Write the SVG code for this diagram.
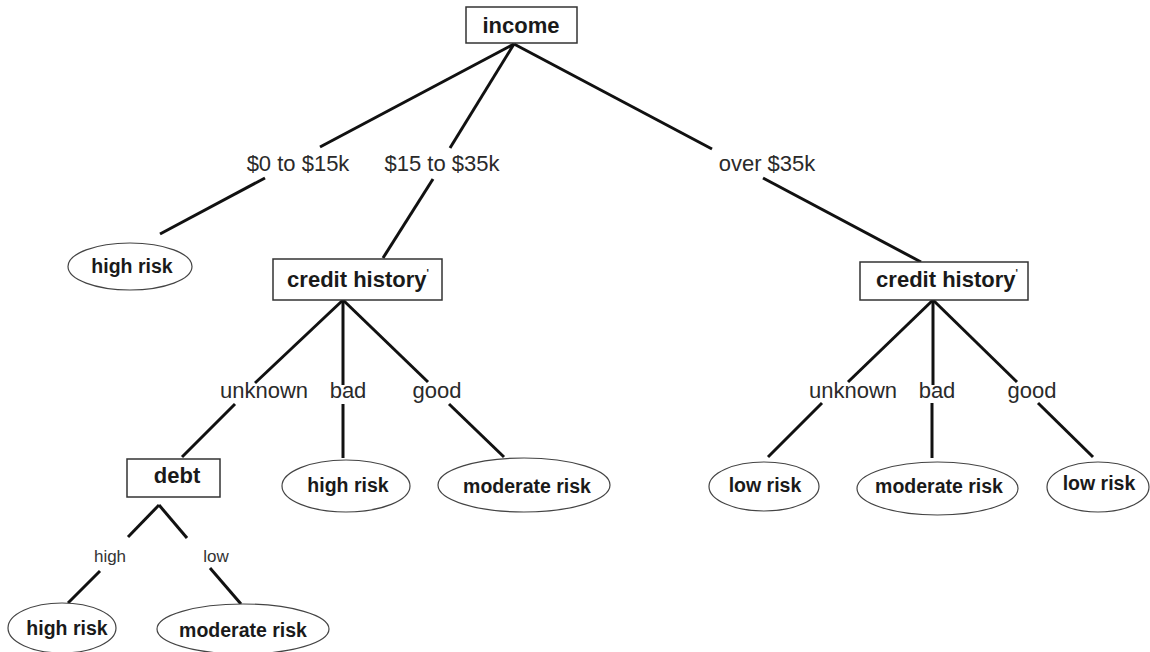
<svg xmlns="http://www.w3.org/2000/svg" width="1150" height="652" viewBox="0 0 1150 652">
  <style>
    .box { fill: #ffffff; stroke: #333333; stroke-width: 1.5; }
    .leaf { fill: #ffffff; stroke: #444444; stroke-width: 1.2; }
    .edge { stroke: #111111; stroke-width: 3; stroke-linecap: butt; fill: none; }
    .ntext { font-family: "Liberation Sans", Arial, sans-serif; font-weight: bold; font-size: 22px; fill: #1a1a1a; text-anchor: middle; }
    .ltext { font-family: "Liberation Sans", Arial, sans-serif; font-weight: bold; font-size: 19.5px; fill: #1a1a1a; text-anchor: middle; }
    .elabel { font-family: "Liberation Sans", Arial, sans-serif; font-size: 22px; fill: #2a2a2a; text-anchor: middle; }
    .slabel { font-family: "Liberation Sans", Arial, sans-serif; font-size: 17px; fill: #333333; text-anchor: middle; }
    .tick { font-size: 10px; }
  </style>
  <rect width="1150" height="652" fill="#ffffff"/>

  <!-- connectors and their branch labels -->
  <g id="connectors">
    <line class="edge" x1="514" y1="44" x2="320" y2="147"/>
    <line class="edge" x1="514" y1="44" x2="450" y2="148"/>
    <line class="edge" x1="514" y1="44" x2="712" y2="149"/>
    <line class="edge" x1="265" y1="178" x2="160" y2="234"/>
    <line class="edge" x1="433" y1="179" x2="383" y2="258"/>
    <line class="edge" x1="763" y1="178" x2="921" y2="262"/>

    <line class="edge" x1="343" y1="300" x2="255" y2="383"/>
    <line class="edge" x1="343" y1="300" x2="343" y2="385"/>
    <line class="edge" x1="343" y1="300" x2="428" y2="382"/>
    <line class="edge" x1="235" y1="404" x2="182" y2="457"/>
    <line class="edge" x1="343" y1="404" x2="343" y2="458"/>
    <line class="edge" x1="449" y1="404" x2="504" y2="457"/>

    <line class="edge" x1="159" y1="505" x2="128" y2="537"/>
    <line class="edge" x1="159" y1="505" x2="187" y2="538"/>
    <line class="edge" x1="100" y1="571" x2="68" y2="603"/>
    <line class="edge" x1="210" y1="568" x2="241" y2="604"/>

    <line class="edge" x1="933" y1="300" x2="848" y2="382"/>
    <line class="edge" x1="933" y1="300" x2="933" y2="385"/>
    <line class="edge" x1="933" y1="300" x2="1017" y2="382"/>
    <line class="edge" x1="822" y1="403" x2="768" y2="457"/>
    <line class="edge" x1="932" y1="403" x2="932" y2="458"/>
    <line class="edge" x1="1038" y1="403" x2="1093" y2="457"/>

    <text class="elabel" x="298" y="171">$0 to $15k</text>
    <text class="elabel" x="442" y="171">$15 to $35k</text>
    <text class="elabel" x="767" y="171">over $35k</text>

    <text class="elabel" x="264" y="398">unknown</text>
    <text class="elabel" x="348" y="398">bad</text>
    <text class="elabel" x="437" y="398">good</text>

    <text class="elabel" x="853" y="398">unknown</text>
    <text class="elabel" x="937" y="398">bad</text>
    <text class="elabel" x="1032" y="398">good</text>

    <text class="slabel" x="110" y="562">high</text>
    <text class="slabel" x="216" y="562">low</text>
  </g>

  <!-- decision nodes -->
  <g id="income">
    <rect class="box" x="466" y="7" width="111" height="36"/>
    <text class="ntext" x="521" y="33">income</text>
  </g>
  <g id="credit-left">
    <rect class="box" x="273" y="259" width="169" height="41"/>
    <text class="ntext" x="358" y="287">credit history<tspan class="tick" dy="-10">'</tspan></text>
  </g>
  <g id="credit-right">
    <rect class="box" x="860" y="262" width="168" height="38"/>
    <text class="ntext" x="947" y="287">credit history<tspan class="tick" dy="-10">'</tspan></text>
  </g>
  <g id="debt">
    <rect class="box" x="127" y="459" width="93" height="38"/>
    <text class="ntext" x="177" y="483">debt</text>
  </g>

  <!-- leaf nodes -->
  <g id="leaf-high-1">
    <ellipse class="leaf" cx="130" cy="266.5" rx="62" ry="23.5"/>
    <text class="ltext" x="132" y="273">high risk</text>
  </g>
  <g id="leaf-high-2">
    <ellipse class="leaf" cx="346" cy="486" rx="64" ry="26"/>
    <text class="ltext" x="348" y="492">high risk</text>
  </g>
  <g id="leaf-moderate-1">
    <ellipse class="leaf" cx="524" cy="485" rx="86" ry="27"/>
    <text class="ltext" x="527" y="493">moderate risk</text>
  </g>
  <g id="leaf-high-3">
    <ellipse class="leaf" cx="62" cy="628" rx="54" ry="25"/>
    <text class="ltext" x="67" y="635">high risk</text>
  </g>
  <g id="leaf-moderate-2">
    <ellipse class="leaf" cx="243" cy="629" rx="86" ry="25"/>
    <text class="ltext" x="243" y="637">moderate risk</text>
  </g>
  <g id="leaf-low-1">
    <ellipse class="leaf" cx="764" cy="486.5" rx="55" ry="24.5"/>
    <text class="ltext" x="765" y="492">low risk</text>
  </g>
  <g id="leaf-moderate-3">
    <ellipse class="leaf" cx="937.5" cy="488.5" rx="80.5" ry="26.5"/>
    <text class="ltext" x="939" y="493">moderate risk</text>
  </g>
  <g id="leaf-low-2">
    <ellipse class="leaf" cx="1098" cy="487" rx="51" ry="25"/>
    <text class="ltext" x="1099" y="490">low risk</text>
  </g>
</svg>
